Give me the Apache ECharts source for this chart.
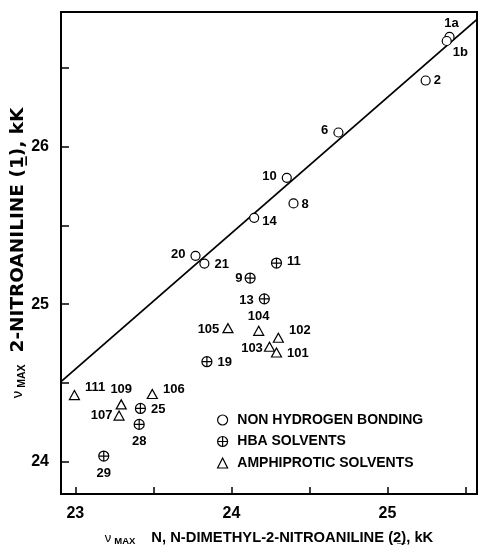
<!DOCTYPE html>
<html><head><meta charset="utf-8">
<script src="https://cdn.jsdelivr.net/npm/echarts@6/dist/echarts.min.js"></script>
<style>html,body{margin:0;padding:0;background:#fff}#c{width:481px;height:547px}</style>
</head><body><div id="c"></div>
<script>
// ---- data ----
const nonHBNames = ['1a','1b','2','6','10','8','14','20','21'];
const nonHBX = [25.398,25.380,25.245,24.686,24.355,24.398,24.146,23.770,23.827];
const nonHBY = [26.697,26.671,26.420,26.090,25.802,25.640,25.548,25.307,25.258];
const hbaNames = ['11','9','13','19','25','28','29'];
const hbaX = [24.289,24.120,24.211,23.843,23.417,23.409,23.182];
const hbaY = [25.261,25.166,25.034,24.635,24.338,24.237,24.036];
const ampNames = ['105','104','102','103','101','111','109','107','106'];
const ampX = [23.978,24.175,24.301,24.244,24.289,22.994,23.294,23.280,23.493];
const ampY = [24.848,24.831,24.787,24.730,24.693,24.423,24.364,24.293,24.430];
const fitX = [22.908,25.572];
const fitY = [24.508,26.807];
const xTicks = [23,23.5,24,24.5,25,25.5];
const xTickLabels = [23,24,25];
const yTicks = [24,24.5,25,25.5,26,26.5];
const yTickLabels = [24,25,26];
const seriesNames = ['NON HYDROGEN BONDING','HBA SOLVENTS','AMPHIPROTIC SOLVENTS'];

// ---- label placement (style) ----
const labelPlace = {
 '1a':['top',2,3], '1b':['right',-4,11], '2':['right',-2,0], '6':['left',0,-2], '10':['left',0,-1],
 '8':['right',-2,1], '14':['right',-2,4], '20':['left',0,-1], '21':['right',0,1],
 '11':['right',0,-2], '9':['left',3,0], '13':['left',0,2], '19':['right',0,1],
 '25':['right',0,1], '28':['bottom',0,0], '29':['bottom',0,0],
 '105':['left',2,1], '104':['top',0,2], '102':['right',0,-7], '103':['left',4,2],
 '101':['right',0,1], '111':['right',0,-8], '109':['top',0,2], '107':['left',4,0], '106':['right',0,-5]
};

const FONT = "'Liberation Sans', Arial, sans-serif";
const WIDE = "'DejaVu Sans', 'Liberation Sans', sans-serif";
const circlePlus = 'path://M0,-10A10,10,0,1,1,0,10A10,10,0,1,1,0,-10ZM-10,0L10,0M0,-10L0,10';

function build(names, xs, ys) {
  return names.map((n, i) => {
    const p = labelPlace[n] || ['right',0,0];
    return { name: n, value: [xs[i], ys[i]], label: { position: p[0], offset: [p[1], p[2]] } };
  });
}

const ptLabel = { show: true, formatter: '{b}', color: '#000', fontFamily: FONT, fontWeight: 'bold', fontSize: 13 };
const ptStyle = { color: '#fff', borderColor: '#000', borderWidth: 1.2, opacity: 1 };
const xTitleRich = {
  nu: { fontFamily: FONT, fontSize: 13, color: '#000', lineHeight: 18 },
  sub: { fontFamily: FONT, fontSize: 9.5, fontWeight: 'bold', color: '#000', lineHeight: 18, padding: [7,0,0,3] },
  m: { fontFamily: FONT, fontSize: 14.75, fontWeight: 'bold', color: '#000', lineHeight: 18, padding: [0,0,0,16] }
};
const yTitleRich = {
  nu: { fontFamily: FONT, fontSize: 15, color: '#000', lineHeight: 22 },
  sub: { fontFamily: FONT, fontSize: 10.5, fontWeight: 'bold', color: '#000', lineHeight: 22, padding: [8,0,0,3] },
  m: { fontFamily: WIDE, fontSize: 18.5, fontWeight: 'bold', color: '#000', lineHeight: 22, padding: [0,0,0,12] }
};

const chart = echarts.init(document.getElementById('c'), null, { renderer: 'canvas' });
chart.setOption({
  animation: false,
  backgroundColor: '#fff',
  grid: { left: 61, right: 4, top: 12, bottom: 53, show: true, borderColor: '#000', borderWidth: 2,
          containLabel: false, outerBoundsMode: 'none' },
  legend: {
    orient: 'vertical', left: 212, top: 408, itemWidth: 10, itemHeight: 10, itemGap: 7.5,
    data: [
      { name: seriesNames[0], icon: 'circle' },
      { name: seriesNames[1], icon: circlePlus },
      { name: seriesNames[2], icon: 'triangle' }
    ],
    textStyle: { color: '#000', fontFamily: FONT, fontWeight: 'bold', fontSize: 14, padding: [0,0,0,4.7] },
    itemStyle: { color: '#fff', borderColor: '#000', borderWidth: 1.2 }
  },
  xAxis: {
    type: 'value', min: 22.908, max: 25.574,
    axisLine: { show: true, lineStyle: { color: '#000', width: 2 } },
    axisTick: { show: true, inside: true, length: 7, customValues: xTicks, lineStyle: { color: '#000', width: 1.5 } },
    axisLabel: { show: true, customValues: xTickLabels, color: '#000', fontFamily: FONT, fontWeight: 'bold', fontSize: 16, margin: 12 },
    splitLine: { show: false },
    name: '{nu|\u03bd}{sub|MAX}{m|N, N-DIMETHYL-2-NITROANILINE (2\u0332), kK}',
    nameLocation: 'middle', nameGap: 35,
    nameTextStyle: { rich: xTitleRich }
  },
  yAxis: {
    type: 'value', min: 23.795, max: 26.855,
    axisLine: { show: true, lineStyle: { color: '#000', width: 2 } },
    axisTick: { show: true, inside: true, length: 8, customValues: yTicks, lineStyle: { color: '#000', width: 1.5 } },
    axisLabel: { show: true, customValues: yTickLabels, color: '#000', fontFamily: FONT, fontWeight: 'bold', fontSize: 16, margin: 12 },
    splitLine: { show: false },
    name: '{nu|\u03bd}{sub|MAX}{m|2-NITROANILINE (1\u0332), kK}',
    nameLocation: 'middle', nameGap: 32, nameRotate: 90, nameMoveOverlap: false,
    nameTextStyle: { rich: yTitleRich }
  },
  series: [
    {
      name: 'fit', type: 'line', data: fitX.map((x, i) => [x, fitY[i]]), showSymbol: false, silent: true,
      lineStyle: { color: '#000', width: 1.8 }, z: 1
    },
    {
      name: seriesNames[0], type: 'scatter', symbol: 'circle', symbolSize: 9,
      data: build(nonHBNames, nonHBX, nonHBY), itemStyle: ptStyle, label: ptLabel, z: 3
    },
    {
      name: seriesNames[1], type: 'scatter', symbol: circlePlus, symbolSize: 10,
      data: build(hbaNames, hbaX, hbaY), itemStyle: ptStyle, label: ptLabel, z: 3
    },
    {
      name: seriesNames[2], type: 'scatter', symbol: 'triangle', symbolSize: [10, 9],
      data: build(ampNames, ampX, ampY), itemStyle: ptStyle, label: ptLabel, z: 3
    }
  ]
});
</script></body></html>
